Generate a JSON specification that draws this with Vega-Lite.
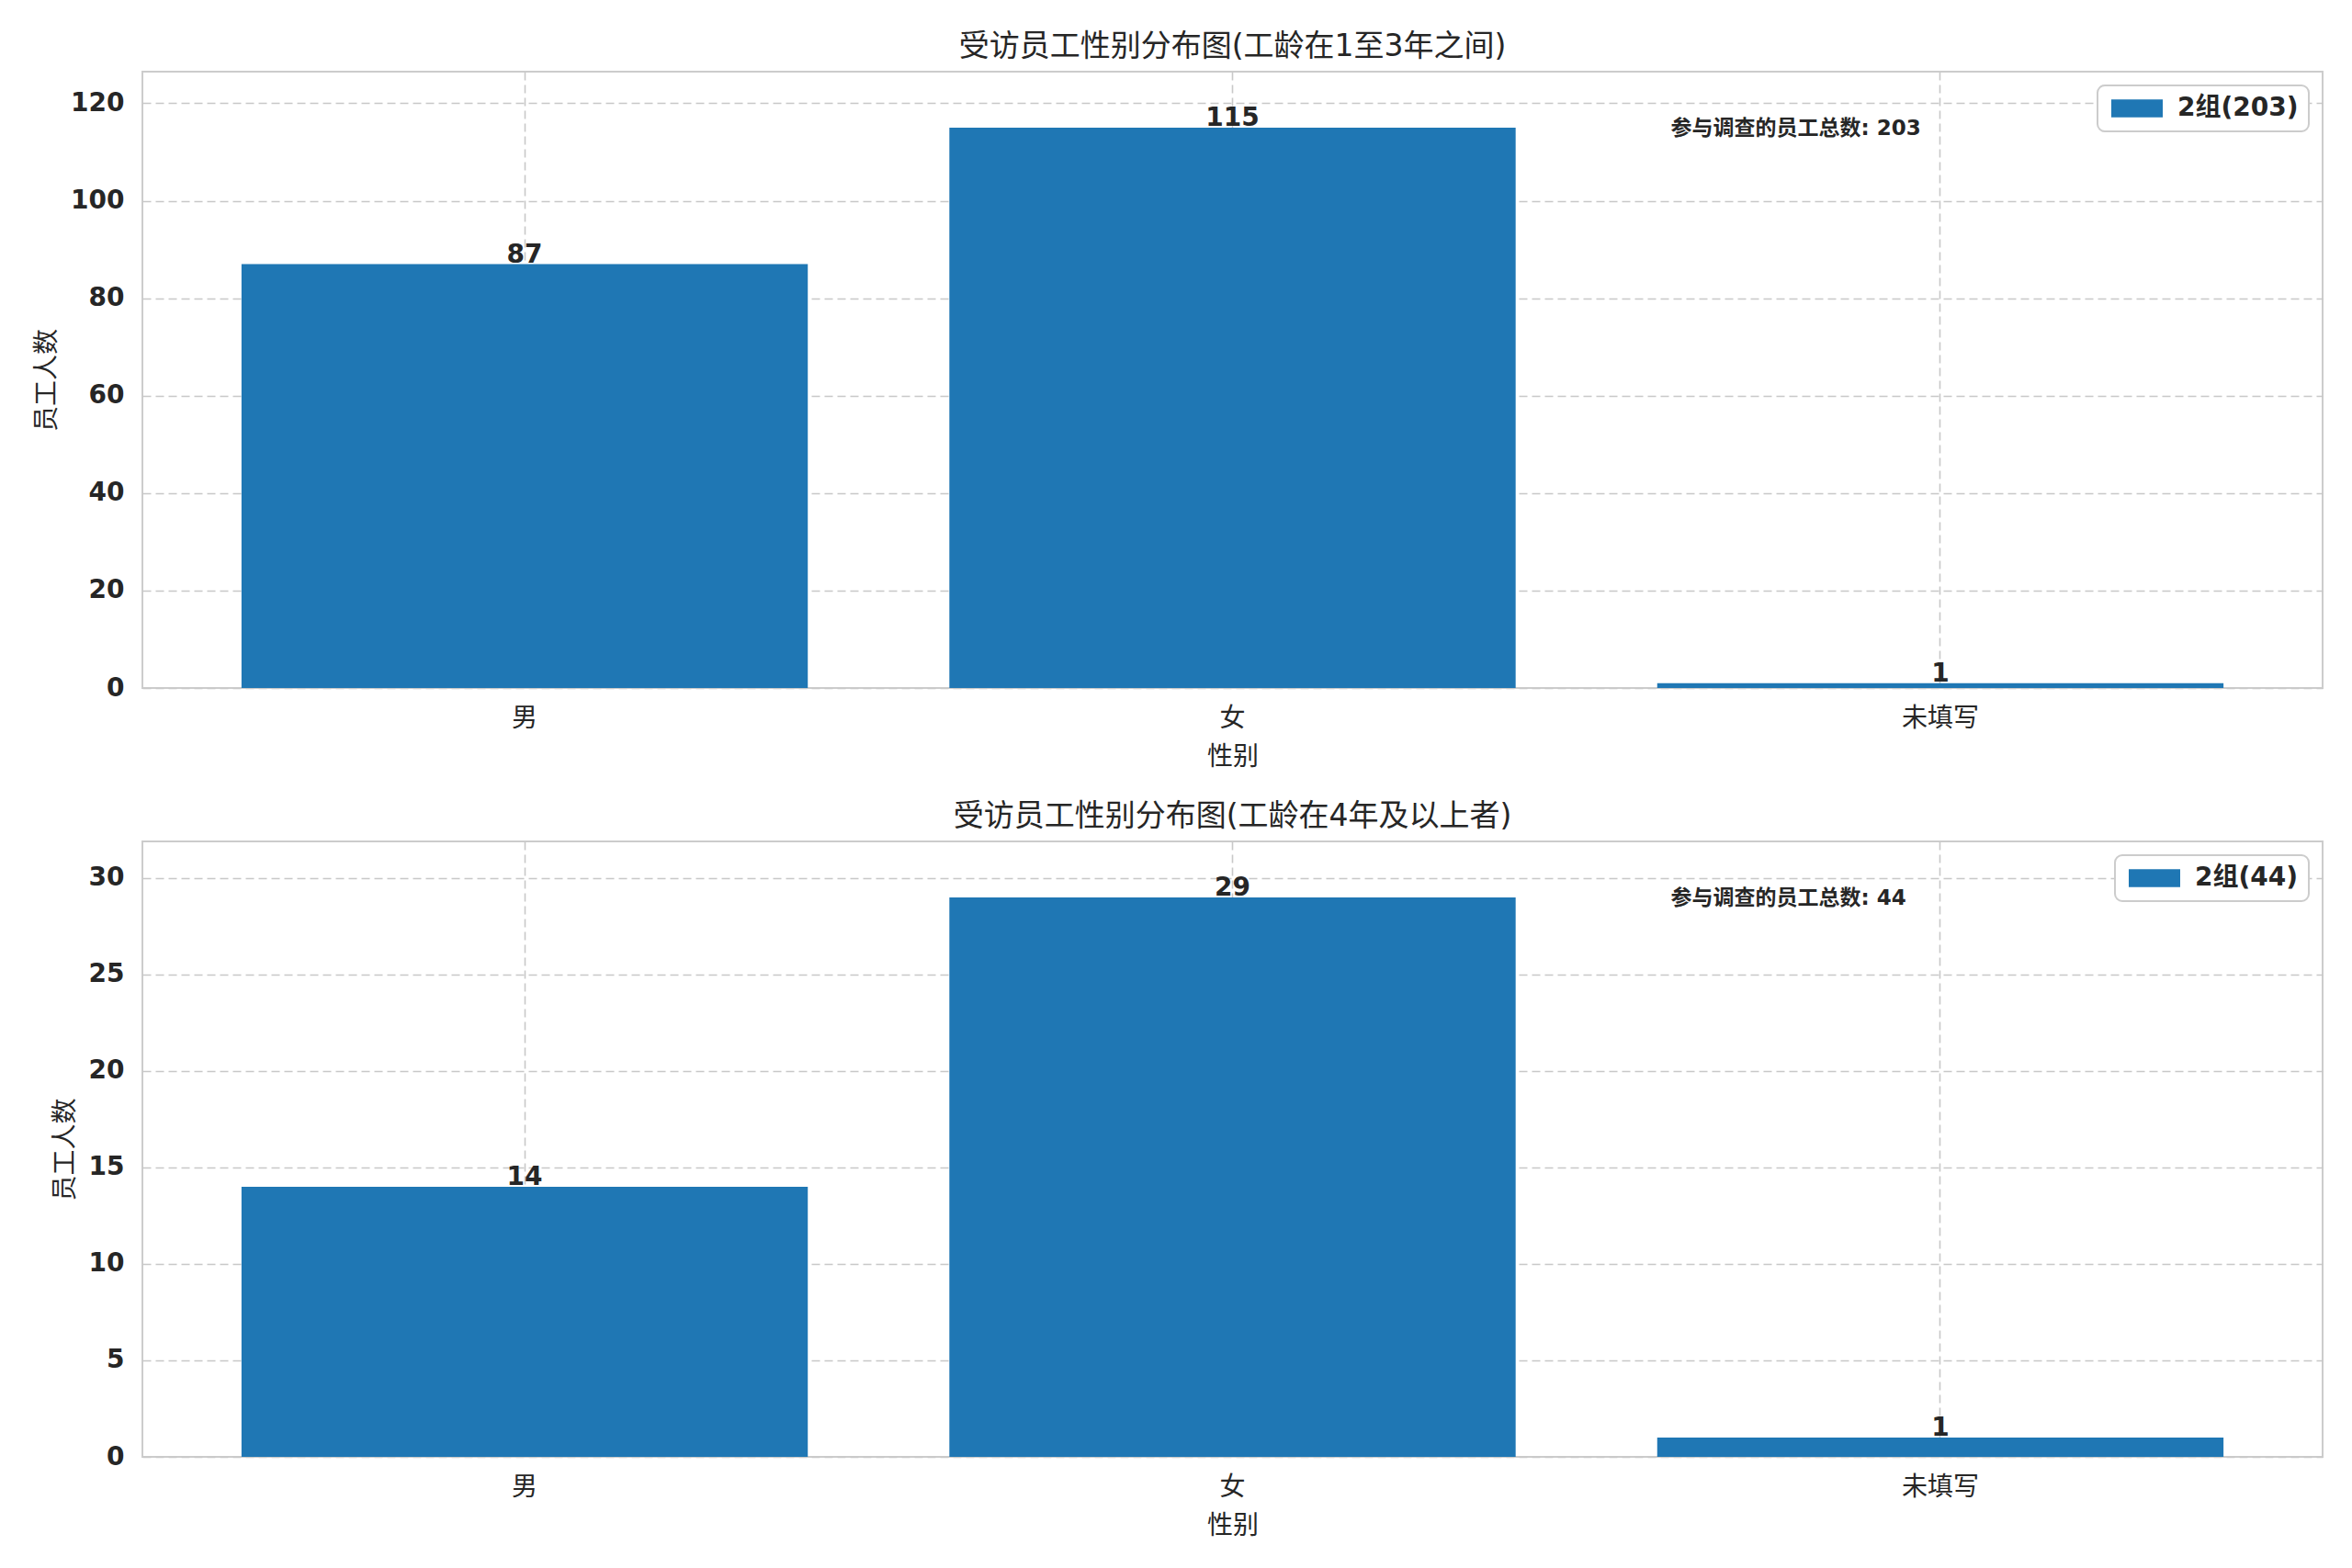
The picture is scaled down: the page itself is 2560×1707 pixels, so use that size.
{
  "$schema": "https://vega.github.io/schema/vega-lite/v6.json",
  "padding": {"left": 36, "top": 34, "right": 27, "bottom": 5},
  "background": "white",
  "datasets": {
    "grades13": [
      {"gender": "男", "count": 87, "series": "2组(203)"},
      {"gender": "女", "count": 115, "series": "2组(203)"},
      {"gender": "未填写", "count": 1, "series": "2组(203)"}
    ],
    "grades4": [
      {"gender": "男", "count": 14, "series": "2组(44)"},
      {"gender": "女", "count": 29, "series": "2组(44)"},
      {"gender": "未填写", "count": 1, "series": "2组(44)"}
    ],
    "note13": [{"label": "参与调查的员工总数: 203"}],
    "note4": [{"label": "参与调查的员工总数: 44"}]
  },
  "spacing": 33,
  "resolve": {"scale": {"color": "independent"}, "legend": {"color": "independent"}},
  "vconcat": [
    {
      "title": "受访员工性别分布图(工龄在1至3年之间)",
      "width": 2373,
      "height": 671,
      "layer": [
        {
          "data": {"name": "grades13"},
          "layer": [
            {
              "mark": {"type": "bar"},
              "encoding": {
                "x": {"field": "gender", "type": "nominal", "sort": null, "title": "性别",
                      "scale": {"paddingInner": 0.2, "paddingOuter": 0.14},
                      "axis": {"labelAngle": 0}},
                "y": {"field": "count", "type": "quantitative", "title": "员工人数",
                      "scale": {"domain": [0, 126.5], "nice": false},
                      "axis": {"values": [0, 20, 40, 60, 80, 100, 120]}},
                "color": {"field": "series", "type": "nominal", "scale": {"range": ["#1f77b4"]}, "title": null}
              }
            },
            {
              "mark": {"type": "text", "baseline": "alphabetic", "dy": -2, "fontWeight": "bold", "fontSize": 28, "color": "#262626"},
              "encoding": {
                "x": {"field": "gender", "type": "nominal", "sort": null},
                "y": {"field": "count", "type": "quantitative"},
                "text": {"field": "count", "type": "quantitative"}
              }
            }
          ]
        },
        {
          "data": {"name": "note13"},
          "mark": {"type": "text", "align": "left", "baseline": "middle", "fontWeight": "bold", "fontSize": 23, "color": "#262626"},
          "encoding": {
            "x": {"datum": 0.701, "type": "quantitative", "scale": {"domain": [0, 1]}, "axis": null},
            "y": {"datum": 0.908, "type": "quantitative", "scale": {"domain": [0, 1]}, "axis": null},
            "text": {"field": "label", "type": "nominal"}
          }
        }
      ],
      "resolve": {"scale": {"x": "independent", "y": "independent"}}
    },
    {
      "title": "受访员工性别分布图(工龄在4年及以上者)",
      "width": 2373,
      "height": 670,
      "layer": [
        {
          "data": {"name": "grades4"},
          "layer": [
            {
              "mark": {"type": "bar"},
              "encoding": {
                "x": {"field": "gender", "type": "nominal", "sort": null, "title": "性别",
                      "scale": {"paddingInner": 0.2, "paddingOuter": 0.14},
                      "axis": {"labelAngle": 0}},
                "y": {"field": "count", "type": "quantitative", "title": "员工人数",
                      "scale": {"domain": [0, 31.9], "nice": false},
                      "axis": {"values": [0, 5, 10, 15, 20, 25, 30]}},
                "color": {"field": "series", "type": "nominal", "scale": {"range": ["#1f77b4"]}, "title": null}
              }
            },
            {
              "mark": {"type": "text", "baseline": "alphabetic", "dy": -2, "fontWeight": "bold", "fontSize": 28, "color": "#262626"},
              "encoding": {
                "x": {"field": "gender", "type": "nominal", "sort": null},
                "y": {"field": "count", "type": "quantitative"},
                "text": {"field": "count", "type": "quantitative"}
              }
            }
          ]
        },
        {
          "data": {"name": "note4"},
          "mark": {"type": "text", "align": "left", "baseline": "middle", "fontWeight": "bold", "fontSize": 23, "color": "#262626"},
          "encoding": {
            "x": {"datum": 0.701, "type": "quantitative", "scale": {"domain": [0, 1]}, "axis": null},
            "y": {"datum": 0.908, "type": "quantitative", "scale": {"domain": [0, 1]}, "axis": null},
            "text": {"field": "label", "type": "nominal"}
          }
        }
      ],
      "resolve": {"scale": {"x": "independent", "y": "independent"}}
    }
  ],
  "config": {
    "font": "DejaVu Sans, Noto Sans CJK SC",
    "view": {"stroke": "#cccccc", "strokeWidth": 2},
    "title": {"fontSize": 33, "fontWeight": "normal", "color": "#262626", "offset": 10, "anchor": "middle"},
    "axis": {
      "labelFontSize": 28,
      "titleFontSize": 28,
      "titleFontWeight": "normal",
      "labelColor": "#262626",
      "titleColor": "#262626",
      "grid": true,
      "gridColor": "#c8c8c8",
      "gridDash": [9, 5],
      "gridWidth": 1.6,
      "domain": false,
      "ticks": false,
      "tickSize": 0
    },
    "axisX": {"labelPadding": 19, "titlePadding": 14, "labelFontWeight": "normal"},
    "axisY": {"labelPadding": 20, "titlePadding": 11, "labelFontWeight": "bold"},
    "legend": {
      "orient": "top-right",
      "offset": 15,
      "symbolType": "M-2,-0.7H2V0.7H-2Z",
      "symbolSize": 784,
      "symbolOffset": 18,
      "symbolStrokeWidth": 0,
      "labelOffset": 30,
      "labelFontSize": 28,
      "labelFontWeight": "bold",
      "labelColor": "#262626",
      "labelLimit": 400,
      "strokeColor": "#cccccc",
      "strokeWidth": 2,
      "fillColor": "white",
      "cornerRadius": 8,
      "padding": 11
    }
  }
}
